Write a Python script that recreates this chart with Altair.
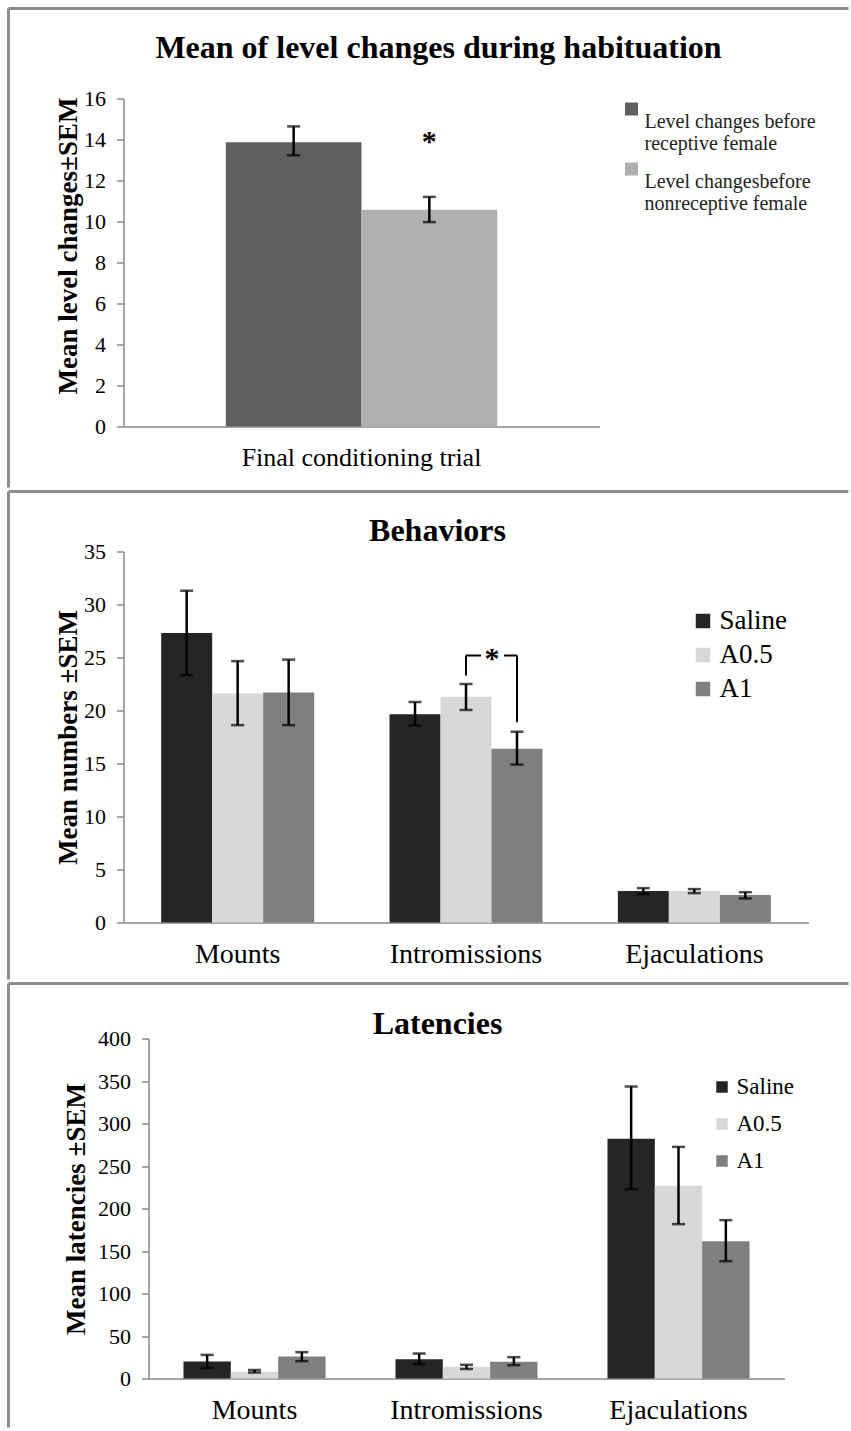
import altair as alt
import pandas as pd

SERIF = "Liberation Serif"
FRAME = "#8d8d8d"
AXISC = "#8a8a8a"

# ---------------- Panel 1 data ----------------
p1_title = ["Mean of level changes during habituation"]
p1_ytitle = "Mean level changes±SEM"
p1_category = ["Final conditioning trial"]
p1_groups = ["Level changes before receptive female", "Level changesbefore nonreceptive female"]
p1_colors = ["#5f5f5f", "#afafaf"]
p1_mean = [13.87, 10.57]
p1_low = [13.23, 9.97]
p1_high = [14.64, 11.20]
p1_star_text = ["*"]
p1_star_group = ["Level changesbefore nonreceptive female"]
p1_star_y = [13.45]
p1_yticks = [0, 2, 4, 6, 8, 10, 12, 14, 16]

# ---------------- Shared categories ----------------
categories = ["Mounts", "Intromissions", "Ejaculations"]
treatments = ["Saline", "A0.5", "A1"]
treat_colors = ["#252525", "#d8d8d8", "#7f7f7f"]

# ---------------- Panel 2 data (Behaviors) ----------------
behav_title = ["Behaviors"]
behav_ytitle = "Mean numbers ±SEM"
behav_yticks = [0, 5, 10, 15, 20, 25, 30, 35]
behav_saline_mean = [27.3, 19.65, 2.96]
behav_saline_low = [23.34, 18.6, 2.68]
behav_saline_high = [31.3, 20.8, 3.24]
behav_a05_mean = [21.6, 21.3, 2.96]
behav_a05_low = [18.62, 20.05, 2.77]
behav_a05_high = [24.66, 22.5, 3.15]
behav_a1_mean = [21.7, 16.4, 2.6]
behav_a1_low = [18.62, 14.9, 2.27]
behav_a1_high = [24.8, 18.0, 2.86]
# significance bracket
bracket_category = ["Intromissions", "Intromissions"]
bracket_group = ["A0.5", "A1"]
bracket_low = [23.3, 18.9]
bracket_high = [25.2, 25.2]
behav_star_text = ["*"]
behav_star_category = ["Intromissions"]
behav_star_group = ["A0.5"]
behav_star_y = [24.0]

# ---------------- Panel 3 data (Latencies) ----------------
lat_title = ["Latencies"]
lat_ytitle = "Mean latencies ±SEM"
lat_yticks = [0, 50, 100, 150, 200, 250, 300, 350, 400]
lat_saline_mean = [20.0, 22.7, 282.0]
lat_saline_low = [12.5, 16.9, 222.7]
lat_saline_high = [27.8, 29.4, 343.5]
lat_a05_mean = [8.0, 13.7, 226.7]
lat_a05_low = [7.0, 11.2, 181.6]
lat_a05_high = [10.0, 16.1, 272.5]
lat_a1_mean = [26.0, 19.6, 161.6]
lat_a1_low = [20.4, 15.7, 138.0]
lat_a1_high = [31.0, 25.1, 186.3]


def build_df(cats, groups, means, lows, highs):
    rows = []
    for g, m, lo, hi in zip(groups, means, lows, highs):
        for c, mv, lv, hv in zip(cats, m, lo, hi):
            rows.append({"cat": c, "grp": g, "mean": mv, "low": lv, "high": hv})
    return pd.DataFrame(rows)


one = pd.DataFrame({"k": [0]})


def make_panel(df, cats, groups, colors, W, H, xpad, ydom, yticks, ytitle,
               ytitle_x, ytitle_y, xlabel_size, title, title_x, title_y, title_size,
               frame, legend, extras=(), xrange=None, yoffset=0):
    fx, ftop, fbottom, fright = frame

    def X():
        sc = dict(domain=cats, paddingInner=xpad, paddingOuter=xpad / 2)
        if xrange is not None:
            sc["range"] = xrange
        return alt.X("cat:N", sort=cats,
                     scale=alt.Scale(**sc),
                     axis=alt.Axis(title=None, labelAngle=0, ticks=False, labelFont=SERIF,
                                   labelFontSize=xlabel_size, labelColor="black",
                                   labelPadding=18, labelLimit=0, domainColor=AXISC,
                                   domainWidth=1.5, grid=False))

    def XO():
        return alt.XOffset("grp:N", sort=groups,
                           scale=alt.Scale(domain=groups, paddingInner=0, paddingOuter=0))

    yaxis = alt.Axis(values=yticks, title=ytitle, titleFont=SERIF, titleFontSize=27,
                     titleFontWeight="bold", titleColor="black", titleAngle=270,
                     titleAlign="center", titleBaseline="alphabetic",
                     titleX=ytitle_x, titleY=ytitle_y, offset=yoffset,
                     labelFont=SERIF, labelFontSize=22, labelColor="black", labelPadding=11,
                     tickSize=7, tickColor=AXISC, tickWidth=1.5, domainColor=AXISC,
                     domainWidth=1.5, grid=False)

    def Y(f):
        return alt.Y(f"{f}:Q", scale=alt.Scale(domain=ydom, nice=False, zero=True), axis=yaxis)

    top_line = alt.Chart(one).mark_rule(color=FRAME, strokeWidth=3).encode(
        x=alt.value(fx), x2=alt.value(fright), y=alt.value(ftop))
    left_line = alt.Chart(one).mark_rule(color=FRAME, strokeWidth=3).encode(
        x=alt.value(fx), y=alt.value(ftop), y2=alt.value(fbottom))

    bars = alt.Chart(df).mark_bar().encode(
        x=X(), xOffset=XO(), y=Y("mean"),
        color=alt.Color("grp:N", sort=groups,
                        scale=alt.Scale(domain=groups, range=colors), legend=legend))
    err = alt.Chart(df).mark_rule(color="black", strokeWidth=2.5).encode(
        x=X(), xOffset=XO(), y=Y("low"), y2="high:Q")
    cap_lo = alt.Chart(df).mark_tick(color="black", thickness=2.5, size=13).encode(
        x=X(), xOffset=XO(), y=Y("low"))
    cap_hi = alt.Chart(df).mark_tick(color="black", thickness=2.5, size=13).encode(
        x=X(), xOffset=XO(), y=Y("high"))

    ttl = alt.Chart(pd.DataFrame({"t": title})).mark_text(
        font=SERIF, fontSize=title_size, fontWeight="bold", align="center",
        baseline="alphabetic", color="black").encode(
        text="t:N", x=alt.value(title_x), y=alt.value(title_y))

    layers = [top_line, left_line, bars, err, cap_lo, cap_hi, ttl]
    for e in extras:
        layers.append(e(X, XO, Y))
    return alt.layer(*layers).properties(width=W, height=H)


# ---------------- Panel 1 ----------------
df1 = build_df(p1_category, p1_groups, [[m] for m in p1_mean], [[v] for v in p1_low],
               [[v] for v in p1_high])

legend1 = alt.Legend(
    title=None, orient="none", legendX=498, legendY=13,
    symbolType="M-1,-2.92H1V-0.92H-1Z", symbolSize=169, symbolStrokeWidth=0,
    labelFont=SERIF, labelFontSize=20, labelColor="#222222", labelOffset=3, labelLimit=0,
    rowPadding=9,
    labelExpr=("datum.label == 'Level changes before receptive female' ? "
               "['Level changes before', 'receptive female'] : "
               "['Level changesbefore', 'nonreceptive female']"))


def p1_star(X, XO, Y):
    sdf = pd.DataFrame({"cat": p1_category, "grp": p1_star_group, "y": p1_star_y,
                        "s": p1_star_text})
    return alt.Chart(sdf).mark_text(font=SERIF, fontSize=30, fontWeight="bold",
                                    baseline="alphabetic", align="center", color="black").encode(
        x=X(), xOffset=XO(), y=Y("y"), text="s:N")


panel1 = make_panel(df1, p1_category, p1_groups, p1_colors, 476, 328, 0.43, [0, 16],
                    p1_yticks, p1_ytitle, -47, 147, 26, p1_title, 315, -41, 32,
                    (-115, -90, 389, 725), legend1, extras=[p1_star])

# ---------------- Panel 2 ----------------
df2 = build_df(categories, treatments,
               [behav_saline_mean, behav_a05_mean, behav_a1_mean],
               [behav_saline_low, behav_a05_low, behav_a1_low],
               [behav_saline_high, behav_a05_high, behav_a1_high])

legend2 = alt.Legend(title=None, orient="none", legendX=566, legendY=56, symbolType="square",
                     symbolSize=210, symbolStrokeWidth=0, labelFont=SERIF, labelFontSize=27,
                     labelColor="black", labelOffset=3, rowPadding=6)


def bracket_vert(X, XO, Y):
    bdf = pd.DataFrame({"cat": bracket_category, "grp": bracket_group,
                        "low": bracket_low, "high": bracket_high})
    return alt.Chart(bdf).mark_rule(color="black", strokeWidth=2).encode(
        x=X(), xOffset=XO(), y=Y("low"), y2="high:Q")


def bracket_top(X, XO, Y):
    bdf = pd.DataFrame({"cat": bracket_category, "grp": bracket_group,
                        "high": bracket_high})
    return alt.Chart(bdf).mark_line(color="black", strokeWidth=2,
                                    strokeDash=[15, 23, 13]).encode(
        x=X(), xOffset=XO(), y=Y("high"))


def behav_star(X, XO, Y):
    sdf = pd.DataFrame({"cat": behav_star_category, "grp": behav_star_group,
                        "y": behav_star_y, "s": behav_star_text})
    return alt.Chart(sdf).mark_text(font=SERIF, fontSize=30, fontWeight="bold", dx=26,
                                    baseline="alphabetic", align="center", color="black").encode(
        x=X(), xOffset=XO(), y=Y("y"), text="s:N")


panel2 = make_panel(df2, categories, treatments, treat_colors, 685, 371, 0.33, [0, 35],
                    behav_yticks, behav_ytitle, -47, 185.5, 28, behav_title, 314, -11, 32,
                    (-115, -60, 428, 725), legend2,
                    extras=[bracket_vert, bracket_top, behav_star])

# ---------------- Panel 3 ----------------
df3 = build_df(categories, treatments,
               [lat_saline_mean, lat_a05_mean, lat_a1_mean],
               [lat_saline_low, lat_a05_low, lat_a1_low],
               [lat_saline_high, lat_a05_high, lat_a1_high])

legend3 = alt.Legend(title=None, orient="none", legendX=587, legendY=37, symbolType="square",
                     symbolSize=132, symbolStrokeWidth=0, labelFont=SERIF, labelFontSize=23,
                     labelColor="black", labelOffset=3, rowPadding=13)

panel3 = make_panel(df3, categories, treatments, treat_colors, 661, 340, 0.33, [0, 400],
                    lat_yticks, lat_ytitle, -64, 170, 28, lat_title, 314, -5, 32,
                    (-115, -55, 389, 725), legend3, xrange=[25, 661], yoffset=-25)

chart = alt.vconcat(panel1, panel2, panel3, spacing=0).resolve_scale(
    x="independent", y="independent", color="independent", xOffset="independent"
).resolve_legend(color="independent").resolve_axis(
    x="independent", y="independent"
).properties(
    padding={"left": 6.5, "top": 6.5, "right": 0, "bottom": 0}
).configure_view(stroke=None).configure_legend(padding=0)

chart.save("out.html", embed_options={"renderer": "svg", "actions": False})
